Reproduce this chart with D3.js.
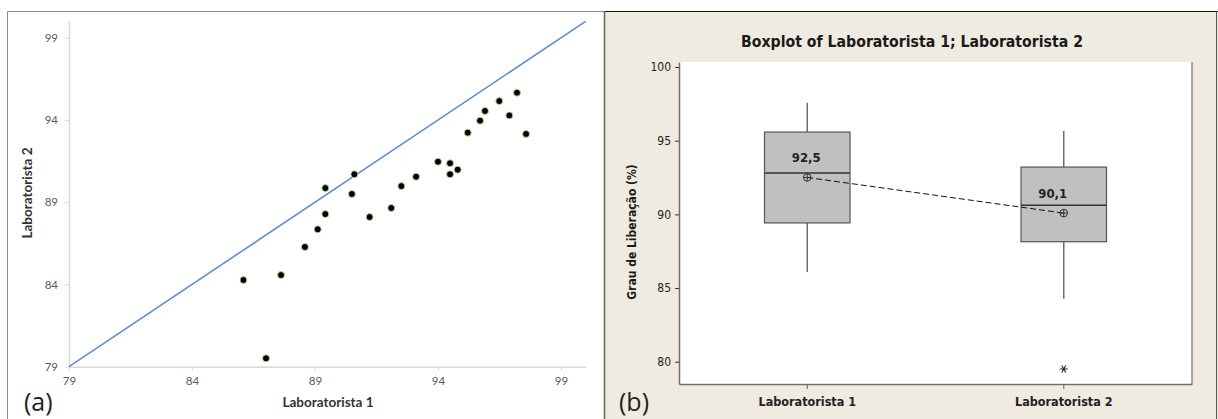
<!DOCTYPE html>
<html>
<head>
<meta charset="utf-8">
<script src="https://cdn.jsdelivr.net/npm/d3@7"></script>
<style>
  html, body { margin: 0; padding: 0; background: #fff; }
  svg { display: block; }
</style>
</head>
<body>
<svg id="chart" width="1218" height="419"></svg>
<script>
// ---- data ----
const lab1 = [86.09, 87.62, 87.01, 88.59, 89.11, 89.42, 89.42, 90.50, 90.60, 91.22, 92.10, 92.51,
              93.11, 94.00, 94.49, 94.49, 94.80, 95.21, 95.71, 95.91, 96.49, 96.90, 97.21, 97.58];
const lab2 = [84.27, 84.57, 79.51, 86.28, 87.35, 88.28, 89.86, 89.50, 90.70, 88.10, 88.65, 89.98,
              90.55, 91.46, 91.37, 90.70, 90.98, 93.23, 93.96, 94.55, 95.15, 94.28, 95.66, 93.15];
const scatterTicks = [79, 84, 89, 94, 99];
const identityLine = [79, 100];
const boxCategories = ["Laboratorista 1", "Laboratorista 2"];
const boxTicks = [80, 85, 90, 95, 100];
const titleText = "Boxplot of Laboratorista 1; Laboratorista 2";
const scatterXLabel = "Laboratorista 1";
const scatterYLabel = "Laboratorista 2";
const boxYLabel = "Grau de Liberação (%)";

const svg = d3.select("#chart");

// ================= Panel (a): scatter =================
const gA = svg.append("g");
gA.append("rect").attr("x", 0).attr("y", 0).attr("width", 605).attr("height", 419).attr("fill", "#fff");
gA.append("path").attr("d", "M7.5,419 V11.5 H605").attr("fill", "none").attr("stroke", "#8c8c8c").attr("stroke-width", 1);

const xA = d3.scaleLinear().domain([79, 100]).range([69, 585.6]);
const yA = d3.scaleLinear().domain([79, 100]).range([366.7, 21.3]);

const axisXA = d3.axisBottom(xA).tickValues(scatterTicks).tickSizeInner(4).tickSizeOuter(0).tickPadding(6);
const axisYA = d3.axisLeft(yA).tickValues(scatterTicks).tickSizeInner(4).tickSizeOuter(0).tickPadding(7);

const gxA = gA.append("g").attr("transform", `translate(0,${yA(79)})`).call(axisXA);
const gyA = gA.append("g").attr("transform", `translate(${xA(79)},0)`).call(axisYA);
[gxA, gyA].forEach(g => {
  g.select(".domain").attr("stroke", "#d9d9d9").attr("stroke-width", 1.5);
  g.selectAll(".tick line").attr("stroke", "#d9d9d9");
  g.selectAll(".tick text").attr("fill", "#595959").attr("font-family", "Lato, 'Open Sans', sans-serif").attr("font-size", 11.5);
});

gA.append("line")
  .attr("x1", xA(identityLine[0])).attr("y1", yA(identityLine[0]))
  .attr("x2", xA(identityLine[1])).attr("y2", yA(identityLine[1]))
  .attr("stroke", "#5b8fd4").attr("stroke-width", 1.6);

gA.selectAll("circle.pt").data(lab1.map((v, i) => [v, lab2[i]])).enter().append("circle")
  .attr("class", "pt")
  .attr("cx", d => xA(d[0])).attr("cy", d => yA(d[1])).attr("r", 3.5)
  .attr("fill", "#000").attr("stroke", "#c9e39a").attr("stroke-width", 0.9);

gA.append("text").text(scatterXLabel)
  .attr("x", 328).attr("y", 407).attr("text-anchor", "middle")
  .attr("font-family", "Lato, sans-serif").attr("font-weight", "bold").attr("font-size", 13.5).attr("fill", "#333");
gA.append("text").text(scatterYLabel)
  .attr("transform", "translate(32,193) rotate(-90)").attr("text-anchor", "middle")
  .attr("font-family", "Lato, sans-serif").attr("font-weight", "bold").attr("font-size", 13.5).attr("fill", "#333");
gA.append("text").text("(a)")
  .attr("x", 24).attr("y", 411)
  .attr("font-family", "'Open Sans', sans-serif").attr("font-size", 25).attr("fill", "#222");

// ================= Panel (b): boxplot =================
const gB = svg.append("g");
gB.append("rect").attr("x", 605).attr("y", 11).attr("width", 613).attr("height", 408).attr("fill", "#f0ebe1");
gB.append("line").attr("x1", 605).attr("x2", 1218).attr("y1", 11.5).attr("y2", 11.5).attr("stroke", "#111");
gB.append("line").attr("x1", 1216.5).attr("x2", 1216.5).attr("y1", 11).attr("y2", 419).attr("stroke", "#555");
gB.append("line").attr("x1", 604.5).attr("x2", 604.5).attr("y1", 11).attr("y2", 419).attr("stroke", "#666").attr("stroke-width", 1.5);

const plotL = 679, plotR = 1192, plotT = 62, plotB = 384;
gB.append("rect").attr("x", plotL).attr("y", plotT).attr("width", plotR - plotL).attr("height", plotB - plotT).attr("fill", "#fff");

const xB = d3.scaleBand().domain(boxCategories).range([plotL, plotR]).padding(0);
const yB = d3.scaleLinear().domain([78.49, 100.34]).range([plotB, plotT]);

const fontB = "'DejaVu Sans Condensed', 'DejaVu Sans', sans-serif";

gB.append("line").attr("x1", plotR).attr("x2", plotR).attr("y1", plotT).attr("y2", plotB).attr("stroke", "#8a8a8a").attr("stroke-width", 1.5);

const axisYB = d3.axisLeft(yB).tickValues(boxTicks).tickSizeInner(4).tickSizeOuter(0).tickPadding(4);
const gyB = gB.append("g").attr("transform", `translate(${plotL},0)`).call(axisYB);
gyB.select(".domain").attr("stroke", "#707070").attr("stroke-width", 1.5);
gyB.selectAll(".tick line").attr("stroke", "#333");
gyB.selectAll(".tick text").attr("fill", "#222").attr("font-family", fontB).attr("font-size", 12);

const axisXB = d3.axisBottom(xB).tickSizeInner(5).tickSizeOuter(0).tickPadding(8);
const gxB = gB.append("g").attr("transform", `translate(0,${plotB})`).call(axisXB);
gxB.select(".domain").attr("stroke", "#707070").attr("stroke-width", 1.5);
gxB.selectAll(".tick line").attr("stroke", "#666");
gxB.selectAll(".tick text").attr("fill", "#222").attr("font-family", fontB).attr("font-weight", "bold").attr("font-size", 12.5);

// Minitab-style quartiles: position (n+1)p
function q(sorted, p) {
  const pos = (sorted.length + 1) * p;
  const lo = Math.floor(pos), frac = pos - lo;
  if (lo < 1) return sorted[0];
  if (lo >= sorted.length) return sorted[sorted.length - 1];
  return sorted[lo - 1] + frac * (sorted[lo] - sorted[lo - 1]);
}
const stats = [lab1, lab2].map((arr, i) => {
  const s = arr.slice().sort(d3.ascending);
  const q1 = q(s, 0.25), med = q(s, 0.5), q3 = q(s, 0.75);
  const iqr = q3 - q1;
  const lf = q1 - 1.5 * iqr, uf = q3 + 1.5 * iqr;
  const inside = s.filter(v => v >= lf && v <= uf);
  return { cat: boxCategories[i], q1, med, q3, lo: d3.min(inside), hi: d3.max(inside),
           mean: d3.mean(arr), outliers: s.filter(v => v < lf || v > uf) };
});

const bw = xB.bandwidth() / 3;
const cx = d => xB(d.cat) + xB.bandwidth() / 2;

const boxes = gB.selectAll("g.box").data(stats).enter().append("g").attr("class", "box");
boxes.append("line").attr("x1", cx).attr("x2", cx).attr("y1", d => yB(d.q3)).attr("y2", d => yB(d.hi))
  .attr("stroke", "#6e6e6e").attr("stroke-width", 1.5);
boxes.append("line").attr("x1", cx).attr("x2", cx).attr("y1", d => yB(d.q1)).attr("y2", d => yB(d.lo))
  .attr("stroke", "#6e6e6e").attr("stroke-width", 1.5);
boxes.append("rect").attr("x", d => cx(d) - bw / 2).attr("width", bw)
  .attr("y", d => yB(d.q3)).attr("height", d => yB(d.q1) - yB(d.q3))
  .attr("fill", "#c0c0c0").attr("stroke", "#555").attr("stroke-width", 1.2);
boxes.append("line").attr("x1", d => cx(d) - bw / 2).attr("x2", d => cx(d) + bw / 2)
  .attr("y1", d => yB(d.med)).attr("y2", d => yB(d.med))
  .attr("stroke", "#333").attr("stroke-width", 1.5);

// mean connect line
gB.append("path")
  .attr("d", d3.line().x(cx).y(d => yB(d.mean))(stats))
  .attr("fill", "none").attr("stroke", "#111").attr("stroke-width", 1).attr("stroke-dasharray", "6,3");

// mean symbols
const ms = gB.selectAll("g.mean").data(stats).enter().append("g").attr("class", "mean")
  .attr("transform", d => `translate(${cx(d)},${yB(d.mean)})`);
ms.append("circle").attr("r", 3.8).attr("fill", "none").attr("stroke", "#333").attr("stroke-width", 1);
ms.append("path").attr("d", "M-3.8,0H3.8M0,-3.8V3.8").attr("stroke", "#333").attr("stroke-width", 1);

// mean labels
const fmt = v => d3.format(".1f")(v).replace(".", ",");
const labelDx = [-1, -11];
gB.selectAll("text.mlab").data(stats).enter().append("text").attr("class", "mlab")
  .text(d => fmt(d.mean))
  .attr("x", (d, i) => cx(d) + labelDx[i]).attr("y", d => yB(d.mean) - 15)
  .attr("text-anchor", "middle").attr("font-family", fontB).attr("font-weight", "bold")
  .attr("font-size", 13).attr("fill", "#222");

// outliers
stats.forEach(d => {
  gB.selectAll(null).data(d.outliers).enter().append("path")
    .attr("transform", v => `translate(${cx(d)},${yB(v)})`)
    .attr("d", "M-4,0H4M-2,-3.5L2,3.5M-2,3.5L2,-3.5")
    .attr("stroke", "#222").attr("stroke-width", 1.1);
});

// title & labels
gB.append("text").text(titleText)
  .attr("x", 912).attr("y", 47).attr("text-anchor", "middle")
  .attr("font-family", fontB).attr("font-weight", "bold").attr("font-size", 15.7).attr("fill", "#1a1a1a");
gB.append("text").text(boxYLabel)
  .attr("transform", "translate(636,232) rotate(-90)").attr("text-anchor", "middle")
  .attr("font-family", fontB).attr("font-weight", "bold").attr("font-size", 12).attr("fill", "#1a1a1a");
gB.append("text").text("(b)")
  .attr("x", 619).attr("y", 411)
  .attr("font-family", "'Open Sans', sans-serif").attr("font-size", 25).attr("fill", "#222");
</script>
</body>
</html>
